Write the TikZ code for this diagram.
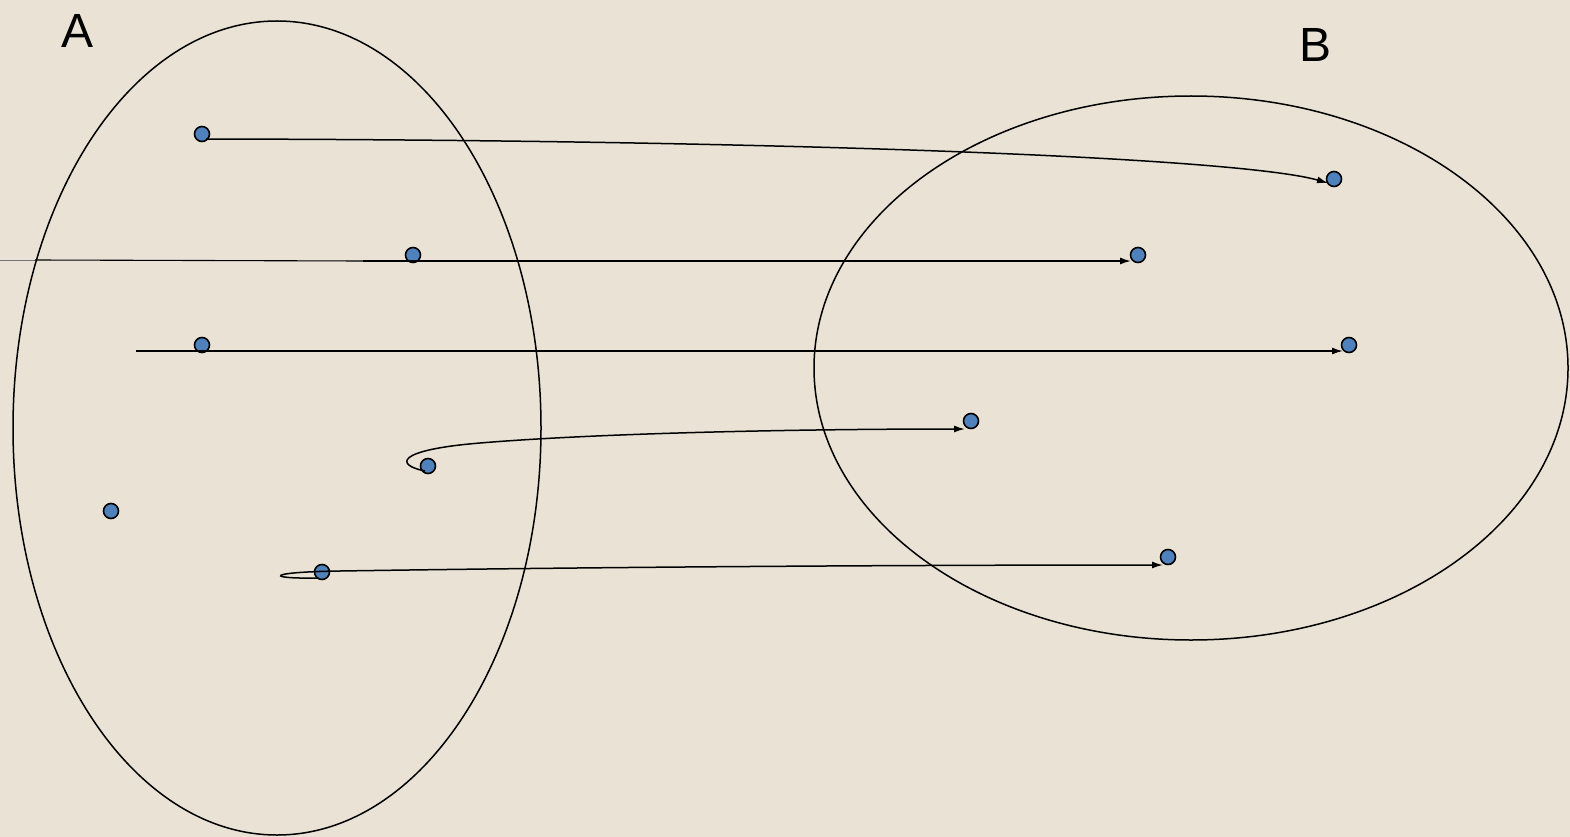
\documentclass[tikz,border=0pt]{standalone}
\usepackage{fontspec}
\setmainfont{Liberation Sans}
\usetikzlibrary{arrows.meta,calc}
\definecolor{bg}{RGB}{234,227,213}
\definecolor{dotblue}{RGB}{79,129,189}
\tikzset{
  dot/.style={circle,draw=black,fill=dotblue,line width=1.6pt,minimum size=15pt,inner sep=0pt},
  setline/.style={draw=black,line width=1.5pt},
  conn/.style={draw=black,line width=1.5pt,-{Latex[length=11pt,width=7pt]}},
  lab/.style={font=\fontsize{48}{48}\selectfont,inner sep=0pt}
}
\begin{document}
\begin{tikzpicture}[x=1pt,y=-1pt]
\fill[bg] (0,0) rectangle (1570,837);
\useasboundingbox (0,0) rectangle (1570,837);
\node[lab] (la) at (78,31) {A};
\node[lab] (lb) at (1315,45) {B};
\draw[setline] (277,428) ellipse [x radius=264, y radius=407];
\draw[setline] (1191,368) ellipse [x radius=377, y radius=272];
% dots in A
\node[dot] (a1) at (202,134) {};
\node[dot] (a2) at (413,255) {};
\node[dot] (a3) at (202,345) {};
\node[dot] (a4) at (428,466) {};
\node[dot] (a5) at (111,511) {};
\node[dot] (a6) at (322,572) {};
% dots in B
\node[dot] (b1) at (1334,179) {};
\node[dot] (b2) at (1138,255) {};
\node[dot] (b3) at (1349,345) {};
\node[dot] (b4) at (971,421) {};
\node[dot] (b5) at (1168,557) {};
% connectors
\coordinate (s1) at ($(a1)+(4,5)$);
\coordinate (t1) at ($(b1)+(-6,4)$);
\draw[conn] (s1) .. controls (800,140) and (1240,158) .. (t1);
\coordinate (s2l) at (0,260);
\coordinate (s2m) at (35,260);
\coordinate (s2) at (363,261);
\coordinate (t2) at ($(b2)+(-7,6)$);
\draw[draw=black!55,line width=0.8pt] (s2l) -- (s2m);
\draw[draw=black,line width=1.1pt] (s2m) -- (s2);
\draw[conn] (s2) -- (t2);
\coordinate (s3) at (136,351);
\coordinate (t3) at ($(b3)+(-6,6)$);
\draw[conn] (s3) -- (t3);
\coordinate (s4) at ($(a4)+(-3,5)$);
\coordinate (t4) at ($(b4)+(-6,8)$);
\draw[conn] (s4) .. controls (395,465) and (395,450) .. (480,443) .. controls (600,433) and (800,429) .. (t4);
\coordinate (s5) at ($(a6)+(-4,6)$);
\coordinate (t5) at ($(b5)+(-5,8)$);
\draw[conn] (s5) .. controls (265,579) and (265,572) .. (340,571) .. controls (600,567) and (900,565) .. (t5);
\end{tikzpicture}
\end{document}
